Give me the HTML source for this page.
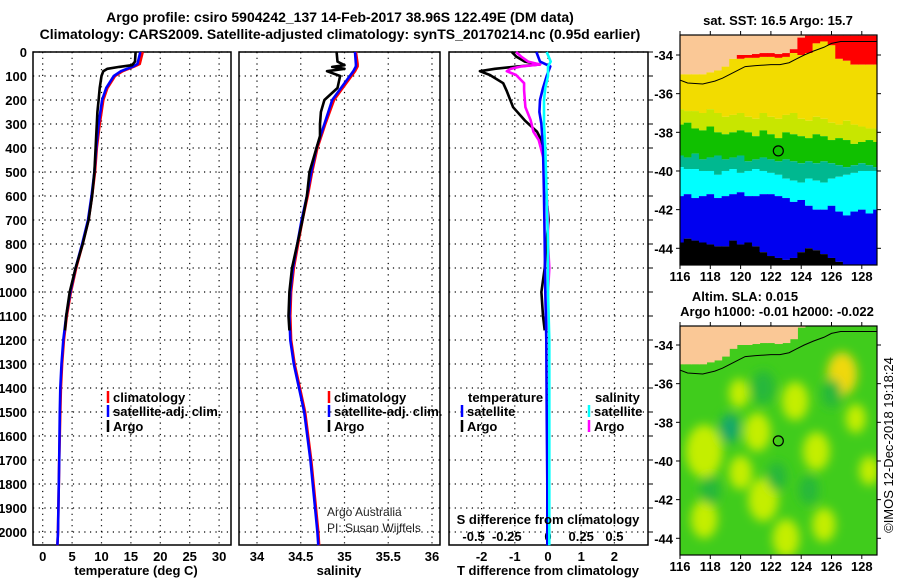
<!DOCTYPE html>
<html><head><meta charset="utf-8">
<style>
html,body{margin:0;padding:0;background:#fff;}
svg{display:block;font-family:"Liberation Sans",sans-serif;}
.t{font-weight:bold;font-size:14px;fill:#000;}
.tk{font-weight:bold;font-size:13px;fill:#000;}
.lg{font-weight:bold;font-size:13px;fill:#000;}
</style></head>
<body>
<svg id="chart" width="900" height="580" viewBox="0 0 900 580" xmlns="http://www.w3.org/2000/svg">
<defs>
<clipPath id="clipM1"><rect x="680" y="35" width="197" height="230"/></clipPath>
<clipPath id="clipM2"><rect x="680" y="326" width="197" height="229"/></clipPath>
<filter id="blur" x="-20%" y="-20%" width="140%" height="140%"><feGaussianBlur stdDeviation="5"/></filter>
</defs>
<text class="t" x="340" y="22" text-anchor="middle">Argo profile: csiro 5904242_137 14-Feb-2017 38.96S 122.49E (DM data)</text>
<text class="t" x="340" y="39" text-anchor="middle">Climatology: CARS2009. Satellite-adjusted climatology: synTS_20170214.nc (0.95d earlier)</text>
<g id="axes"></g>
<g id="marks"></g>
<g id="maps"></g>
<text class="tk" x="136" y="575" text-anchor="middle">temperature (deg C)</text>
<text class="tk" x="339" y="575" text-anchor="middle">salinity</text>
<text class="tk" x="548" y="575" text-anchor="middle">T difference from climatology</text>
<text class="tk" x="548" y="524" text-anchor="middle">S difference from climatology</text>
<text x="327" y="516" font-size="12" fill="#222">Argo Australia</text>
<text x="327" y="532" font-size="12" fill="#222">PI: Susan Wijffels</text>
<text class="tk" x="778" y="25" text-anchor="middle">sat. SST: 16.5 Argo: 15.7</text>
<text class="tk" x="745" y="301" text-anchor="middle">Altim. SLA: 0.015</text>
<text class="tk" x="777" y="316" text-anchor="middle">Argo h1000: -0.01 h2000: -0.022</text>
<text x="0" y="0" font-size="13" transform="translate(893,445) rotate(-90)" text-anchor="middle">©IMOS 12-Dec-2018 19:18:24</text>
</svg>
<script>
// ---------- data ----------
const depthTicks = [0,100,200,300,400,500,600,700,800,900,1000,1100,1200,1300,1400,1500,1600,1700,1800,1900,2000];
const tempTicks = [0,5,10,15,20,25,30];
const salTicks = [34,34.5,35,35.5,36];
const salTickLabels = ["34","34.5","35","35.5","36"];
const tdiffTicks = [-2,-1,0,1,2];
const sdiffTickLabels = ["-0.5","-0.25","0","0.25","0.5"];
const sdiffTicks = [-0.5,-0.25,0,0.25,0.5];

const climDepth = [0,50,60,80,100,150,200,300,400,500,600,700,800,900,1000,1100,1200,1300,1400,1500,1700,2000,2055];
const climTemp  = [17.0,16.5,15.6,13.6,12.3,11.0,10.3,9.7,9.2,8.9,8.4,7.8,6.8,5.7,4.8,4.1,3.6,3.3,3.1,3.0,2.8,2.6,2.5];
const satTemp   = [16.6,16.1,15.4,13.3,12.1,10.8,10.1,9.5,9.1,8.8,8.3,7.7,6.7,5.6,4.7,4.0,3.5,3.2,3.0,2.9,2.8,2.6,2.5];
const argoDepth = [0,40,55,62,70,80,100,150,200,250,300,350,400,500,600,700,800,900,1000,1100,1160];
const argoTemp  = [15.8,15.7,15.2,13.0,11.0,10.3,10.0,9.7,9.5,9.3,9.2,9.1,9.0,8.8,8.4,7.8,6.8,5.6,4.6,4.0,3.8];

const climSal = [35.13,35.15,35.15,35.12,35.08,34.98,34.88,34.78,34.69,34.63,34.58,34.52,34.47,34.42,34.39,34.38,34.39,34.43,34.49,34.55,34.62,34.70,34.71];
const satSal  = [35.12,35.13,35.13,35.10,35.06,34.96,34.86,34.77,34.68,34.62,34.57,34.51,34.46,34.41,34.38,34.37,34.38,34.42,34.48,34.54,34.61,34.69,34.70];
const argoSal = [34.91,34.92,35.0,34.86,35.0,34.8,34.95,34.92,34.77,34.73,34.72,34.72,34.68,34.6,34.57,34.52,34.46,34.40,34.37,34.36,34.37];

const diffDepth = [0,20,40,52,60,70,80,96,130,160,230,285,332,367,450,600,700,800,900,1000,1100,1160];
const argoTdiff = [-1.09,-0.95,-0.7,-0.24,-0.9,-1.6,-2.05,-1.75,-1.35,-1.25,-1.05,-0.7,-0.33,-0.2,-0.1,-0.05,0.02,-0.05,-0.1,-0.2,-0.15,-0.1];
const argoSdiff = [-0.24,-0.2,-0.15,-0.06,-0.2,-0.28,-0.31,-0.24,-0.18,-0.18,-0.17,-0.13,-0.11,-0.07,-0.03,-0.01,0.0,0.0,0.01,0.0,0.0,0.0];
const satDiffDepth = [0,40,60,100,150,200,250,300,400,600,800,1000,1200,1500,1800,2055];
const satTdiff = [-0.35,-0.24,0.07,-0.04,-0.15,-0.24,-0.26,-0.2,-0.15,-0.12,-0.1,-0.08,-0.05,-0.04,-0.02,-0.02];
const satSdiff = [-0.01,0.02,0.0,0.0,-0.02,-0.03,-0.03,-0.03,-0.02,-0.01,0.0,0.0,0.01,0.01,0.01,0.01];

// maps
const lonTicks = [116,118,120,122,124,126,128];
const latTicks = [-34,-36,-38,-40,-42,-44];
const argoLon = 122.49, argoLat = -38.96;
const colLon = [116,116.5,117,117.5,118,118.5,119,119.5,120,120.5,121,121.5,122,122.5,123,123.5,124,124.5,125,125.5,126,126.5,127,127.5,128,128.5,129];
const landLat = [-35.0,-35.0,-35.0,-35.0,-34.9,-34.8,-34.6,-34.2,-34.0,-34.0,-33.95,-33.9,-33.9,-33.95,-33.9,-33.7,-33.1,-33,-33,-33,-33,-33,-33,-33,-33,-33,-33];
const redLat  = [-35.0,-35.0,-35.0,-35.0,-34.9,-34.8,-34.6,-34.2,-34.2,-34.15,-34.15,-34.1,-34.1,-34.15,-34.1,-33.9,-34.0,-33.9,-33.4,-33.3,-33.5,-34.2,-34.3,-34.5,-34.5,-34.5,-34.5];
const ygLat   = [-36.8,-36.9,-36.9,-37.0,-36.8,-37.0,-37.2,-37.1,-37.0,-37.2,-37.3,-37.0,-37.2,-37.3,-37.1,-37.0,-37.3,-37.4,-37.2,-37.3,-37.5,-37.6,-37.4,-37.6,-37.7,-37.8,-37.8];
const greenLat= [-37.6,-37.5,-37.8,-37.9,-37.7,-38.0,-38.1,-38.0,-37.9,-38.0,-38.2,-37.9,-38.1,-38.3,-38.0,-38.1,-38.2,-38.3,-38.1,-38.2,-38.4,-38.3,-38.4,-38.6,-38.5,-38.4,-38.5];
const tealLat = [-39.2,-39.3,-39.1,-39.4,-39.3,-39.2,-39.4,-39.3,-39.2,-39.5,-39.4,-39.3,-39.4,-39.5,-39.4,-39.5,-39.6,-39.5,-39.6,-39.5,-39.6,-39.7,-39.8,-39.7,-39.6,-39.7,-39.8];
const cyanLat = [-39.8,-39.9,-39.9,-40.0,-40.0,-40.2,-40.0,-39.9,-40.1,-40.0,-39.9,-40.0,-40.1,-40.2,-40.4,-40.5,-40.6,-40.4,-40.5,-40.6,-40.4,-40.3,-40.2,-40.1,-40.0,-40.0,-40.0];
const blueLat = [-41.3,-41.2,-41.4,-41.3,-41.2,-41.4,-41.3,-41.2,-41.1,-41.3,-41.3,-41.2,-41.2,-41.3,-41.4,-41.6,-41.5,-41.8,-42.0,-42.0,-41.8,-42.1,-42.3,-42.1,-42.0,-42.2,-42.0];
const blackLat= [-43.7,-43.5,-43.6,-43.7,-43.8,-43.9,-43.9,-43.6,-43.8,-43.7,-43.9,-44.2,-44.4,-44.5,-44.6,-44.5,-44.2,-44.0,-44.1,-44.3,-44.5,-44.7,-44.9,-44.9,-44.9,-44.9,-44.9];
const coastLon = [116,116.5,117.5,118.3,118.8,119.3,119.8,120.3,121,122,122.6,123.2,123.7,124.2,124.8,125.5,126,126.6,127.5,128.5,129.1];
const coastLat = [-35.3,-35.45,-35.5,-35.35,-35.2,-35.0,-34.8,-34.6,-34.55,-34.5,-34.5,-34.4,-34.2,-34.0,-33.8,-33.6,-33.4,-33.3,-33.3,-33.3,-33.3];
// SLA blobs: lon, lat, radius(deg), kind
const blobLon = [126.7,119.9,123.6,117.6,121.1,125.0,120.0,121.5,127.6,117.6,123.0,125.5,128.5,119.3,121.5,122.4,124.5,118.0,126.0];
const blobLat = [-35.5,-36.5,-36.9,-39.5,-38.5,-39.5,-40.6,-42.0,-37.8,-43.0,-44.0,-43.3,-40.5,-38.3,-36.2,-40.8,-41.5,-41.5,-36.5];
const blobR   = [0.9,0.6,0.8,1.1,0.8,0.8,0.7,0.9,0.6,0.8,0.8,0.7,0.6,0.6,0.7,0.6,0.6,0.6,0.6];
const blobKind= [2,1,1,1,1,1,1,1,1,1,1,1,1,3,4,4,4,4,4];

// ---------- scales ----------
const NS="http://www.w3.org/2000/svg";
const yD = d => 52 + d*0.24;
const xT = t => 42.7 + t*5.88;
const xS = s => 257 + (s-34)*87.5;
const xDT = t => 548 + t*33.2;
const xDS = s => 548 + s*132.8;
const mX = l => 680 + (l-116)*15.15;
const mY1 = la => 55 + (-34-la)*19.33;
const mY2 = la => 345 + (-34-la)*19.33;
function mk(tag, attrs, parent){const e=document.createElementNS(NS,tag);for(const k in attrs)e.setAttribute(k,attrs[k]);parent.appendChild(e);return e;}
const axes=document.getElementById('axes'), marks=document.getElementById('marks'), maps=document.getElementById('maps');

const panels=[{x0:33,x1:231,name:'temperature-panel'},{x0:239,x1:440,name:'salinity-panel'},{x0:449,x1:648,name:'difference-panel'}];
const Y0=52,Y1=545;
panels.forEach((p,i)=>{
  const r=mk('rect',{x:p.x0,y:Y0,width:p.x1-p.x0,height:Y1-Y0,fill:'#fff',stroke:'#000','stroke-width':1.5},axes);
  
  
  depthTicks.forEach(d=>{
    const g=mk('line',{x1:p.x0,x2:p.x1,y1:yD(d),y2:yD(d),stroke:'#000','stroke-width':1.2,'stroke-dasharray':'1.2 4.5'},axes);
    
    
  });
});
depthTicks.forEach(d=>{
  const t=mk('text',{x:27,y:yD(d)+5,'text-anchor':'end',class:'tk'},axes); t.textContent=d;
  
  
  const k=mk('line',{x1:648,x2:653,y1:yD(d),y2:yD(d),stroke:'#000'},axes);
  
  
});
function vgrid(ticks,sc,labels,yl){
  ticks.forEach((v,i)=>{
    const g=mk('line',{x1:sc(v),x2:sc(v),y1:Y0,y2:Y1,stroke:'#000','stroke-width':1.2,'stroke-dasharray':'1.2 4.5'},axes);
    
    
    const t=mk('text',{x:sc(v),y:yl,'text-anchor':'middle',class:'tk'},axes); t.textContent=labels?labels[i]:v;
    
    
  });
}
vgrid(tempTicks,xT,null,561);
vgrid(salTicks,xS,salTickLabels,561);
vgrid(tdiffTicks,xDT,null,561);
sdiffTicks.forEach((v,i)=>{
  const t=mk('text',{x:xDS(v)-(i<2?8:0),y:541,'text-anchor':'middle',class:'tk'},axes); t.textContent=sdiffTickLabels[i];
  
  
});

function line(xs,ds,sx,color,name,w){
  const pts=xs.map((v,i)=>sx(v).toFixed(1)+','+yD(ds[i]).toFixed(1)).join(' ');
  const l=mk('polyline',{points:pts,fill:'none',stroke:color,'stroke-width':w||2.6,'stroke-linejoin':'round'},marks);
  
  
}
line(climTemp,climDepth,xT,'#f00','temp-climatology-line');
line(satTemp,climDepth,xT,'#00f','temp-satellite-line');
line(argoTemp,argoDepth,xT,'#000','temp-argo-line');
line(climSal,climDepth,xS,'#f00','sal-climatology-line');
line(satSal,climDepth,xS,'#00f','sal-satellite-line');
line(argoSal,argoDepth,xS,'#000','sal-argo-line');
line(argoTdiff,diffDepth,xDT,'#000','tdiff-argo-line');
line(argoSdiff,diffDepth,xDS,'#f0f','sdiff-argo-line');
line(satTdiff,satDiffDepth,xDT,'#00f','tdiff-satellite-line');
line(satSdiff,satDiffDepth,xDS,'#0ff','sdiff-satellite-line');

function legend(x,y,color,label,name){
  const m=mk('line',{x1:x,x2:x,y1:y-11,y2:y+1,stroke:color,'stroke-width':2.5},marks);
  
  
  const t=mk('text',{x:x+5,y:y,class:'lg'},marks); t.textContent=label;
  
  
}
legend(108,402,'#f00','climatology','legend-climatology');
legend(108,416,'#00f','satellite-adj. clim.','legend-satellite');
legend(108,431,'#000','Argo','legend-argo');
legend(329,402,'#f00','climatology','legend-sal-climatology');
legend(329,416,'#00f','satellite-adj. clim.','legend-sal-satellite');
legend(329,431,'#000','Argo','legend-sal-argo');
{const t=mk('text',{x:468,y:402,class:'lg'},marks);t.textContent='temperature';}
{const t=mk('text',{x:595,y:402,class:'lg'},marks);t.textContent='salinity';}
legend(462,416,'#00f','satellite','legend-tdiff-satellite');
legend(462,431,'#000','Argo','legend-tdiff-argo');
legend(589,416,'#0ff','satellite','legend-sdiff-satellite');
legend(589,431,'#f0f','Argo','legend-sdiff-argo');

// ---------- SST map ----------
const g1=mk('g',{'clip-path':'url(#clipM1)'},maps);


const bands=[[redLat,ygLat,'#f2dc00'],[ygLat,greenLat,'#c8e600'],[greenLat,tealLat,'#10c000'],[tealLat,cyanLat,'#00b890'],[cyanLat,blueLat,'#00ffff'],[blueLat,blackLat,'#0000f0']];
colLon.forEach((lo,i)=>{
  const x=mX(lo-0.25), w=15.15*0.5+0.5;
  function cell(top,bot,col,name){const r=mk('rect',{x:x,y:mY1(top),width:w,height:Math.max(0,mY1(bot)-mY1(top)),fill:col},g1);}
  cell(-32.9,landLat[i],'#fac896','land-cell');
  cell(landLat[i],redLat[i],'#f00','sst-red-cell');
  bands.forEach(b=>cell(b[0][i],b[1][i],b[2],'sst-band-cell'));
  cell(blackLat[i],-45.2,'#000','sst-black-cell');
});
{const c=mk('polyline',{points:coastLon.map((l,i)=>mX(l)+','+mY1(coastLat[i])).join(' '),fill:'none',stroke:'#000','stroke-width':1},g1);}

// ---------- SLA map ----------
const g2=mk('g',{'clip-path':'url(#clipM2)'},maps);


{const r=mk('rect',{x:680,y:326,width:197,height:229,fill:'#40cc1c'},g2);}
const bg=mk('g',{filter:'url(#blur)'},g2);
const kindCol=['', '#c4ee00','#f0d810','#14a86a','#28b83a'];
blobLon.forEach((lo,i)=>{
  const e=mk('ellipse',{cx:mX(lo),cy:mY2(blobLat[i]),rx:blobR[i]*15.15*1.1,ry:blobR[i]*19.33*1.25,fill:kindCol[blobKind[i]]},bg);
  
  
});
colLon.forEach((lo,i)=>{
  const r=mk('rect',{x:mX(lo-0.25),y:mY2(-32.9),width:8.1,height:Math.max(0,mY2(landLat[i])-mY2(-32.9)),fill:'#fac896'},g2);
  
  
});
{const c=mk('polyline',{points:coastLon.map((l,i)=>mX(l)+','+mY2(coastLat[i])).join(' '),fill:'none',stroke:'#000','stroke-width':1},g2);}

// map frames, ticks, circle
[[35,265,mY1,281,'map1'],[326,555,mY2,571,'map2']].forEach(m=>{
  const [t,b,yf,ly,nm]=m;
  const r=mk('rect',{x:680,y:t,width:197,height:b-t,fill:'none',stroke:'#000','stroke-width':1.2},maps);
  
  
  lonTicks.forEach(l=>{
    mk('line',{x1:mX(l),x2:mX(l),y1:t-4,y2:t,stroke:'#000'},maps);
    mk('line',{x1:mX(l),x2:mX(l),y1:b,y2:b+4,stroke:'#000'},maps);
    const tx=mk('text',{x:mX(l),y:ly,'text-anchor':'middle',class:'tk'},maps);tx.textContent=l;
    
    
  });
  latTicks.forEach(la=>{
    mk('line',{x1:676,x2:680,y1:yf(la),y2:yf(la),stroke:'#000'},maps);
    mk('line',{x1:877,x2:881,y1:yf(la),y2:yf(la),stroke:'#000'},maps);
    const tx=mk('text',{x:673,y:yf(la)+5,'text-anchor':'end',class:'tk'},maps);tx.textContent=la;
    
    
  });
  const c=mk('circle',{cx:mX(argoLon),cy:yf(argoLat),r:5,fill:'none',stroke:'#000','stroke-width':1.2},maps);
  
  
});
</script>
</body></html>
